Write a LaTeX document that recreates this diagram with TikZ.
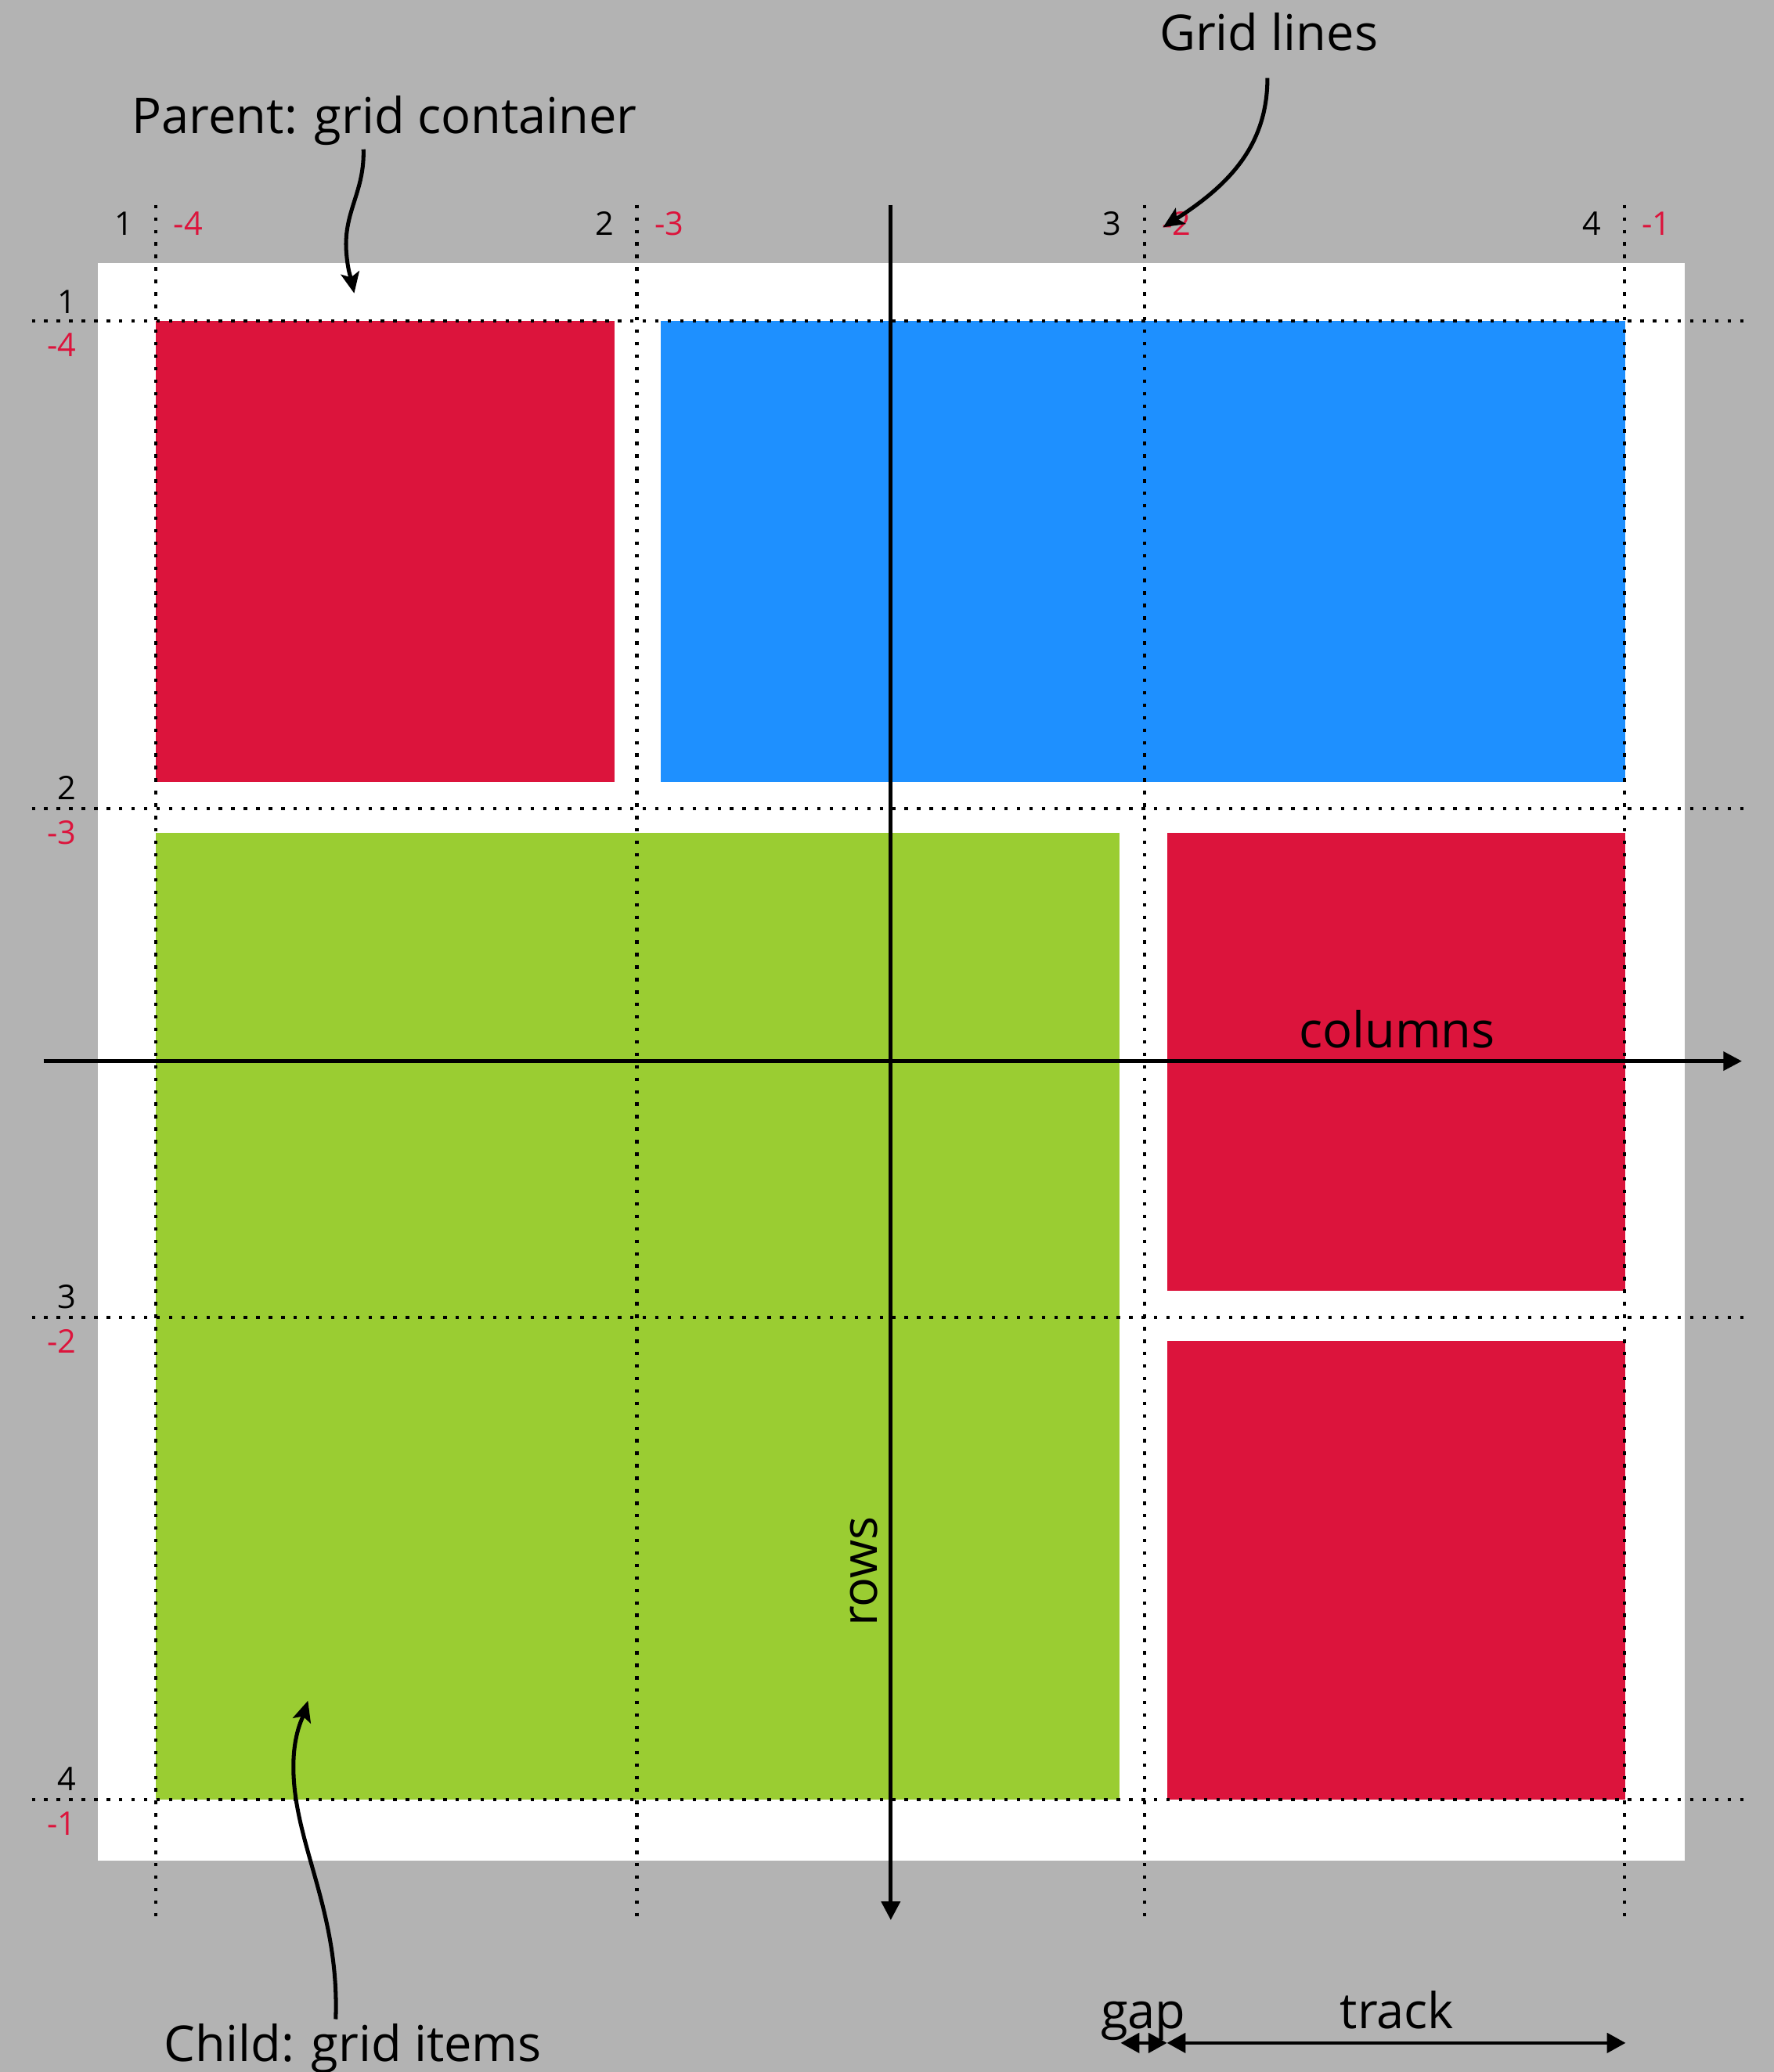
\documentclass[tikz,border=0pt]{standalone}
\usepackage{fontspec}
\setmainfont{Open Sans}
\usetikzlibrary{arrows.meta}
\definecolor{bggray}{RGB}{179,179,179}
\definecolor{gred}{RGB}{220,20,60}
\definecolor{gblue}{RGB}{30,144,255}
\definecolor{ggreen}{RGB}{154,205,50}
\begin{document}
\begin{tikzpicture}[x=0.02cm,y=-0.02cm,
  gridline/.style={line width=1.5pt, dash pattern=on 1.5pt off 3.87pt},
  axis/.style={line width=1.6pt, -{Triangle[length=8pt,width=8pt]}},
  pointer/.style={line width=1.7pt, -{Stealth[length=9pt,width=8pt,inset=2pt]}},
  measure/.style={line width=1.3pt, {Triangle[length=8pt,width=8.5pt]}-{Triangle[length=8pt,width=8.5pt]}},
  num/.style={font=\fontsize{14}{16}\selectfont, inner sep=0pt},
  posnum/.style={num, anchor=base east},
  negnum/.style={num, text=gred},
  big/.style={font=\fontsize{21.3}{25}\selectfont, inner sep=0pt, anchor=base}]
% background and container
\fill[bggray] (0,0) rectangle (1342,1568);
\useasboundingbox (0,0) rectangle (1342,1568);
\fill[white] (74,199) rectangle (1275,1408);
% grid items
\fill[gred]   (118,243) rectangle (465,592);
\fill[gblue]  (500,243) rectangle (1230,592);
\fill[ggreen] (118,630) rectangle (847,1362);
\fill[gred]   (883,630) rectangle (1230,977);
\fill[gred]   (883,1015) rectangle (1230,1362);
% grid lines
\foreach \x in {118,482,866,1229} \draw[gridline] (\x,155) -- (\x,1453);
\foreach \y in {243,612,997,1362} \draw[gridline] (24,\y) -- (1325,\y);
% column line numbers
\node[posnum] (c1) at (101,178) {1};
\node[negnum, anchor=base west] (cm4) at (131,178) {-4};
\node[posnum] (c2) at (465,178) {2};
\node[negnum, anchor=base west] (cm3) at (495,178) {-3};
\node[posnum] (c3) at (849,178) {3};
\node[negnum, anchor=base west] (cm2) at (879,178) {-2};
\node[posnum] (c4) at (1212,178) {4};
\node[negnum, anchor=base west] (cm1) at (1242,178) {-1};
% row line numbers
\node[posnum] (r1) at (58,237) {1};
\node[negnum, anchor=base east] (rm4) at (58,270) {-4};
\node[posnum] (r2) at (58,605) {2};
\node[negnum, anchor=base east] (rm3) at (58,639) {-3};
\node[posnum] (r3) at (58,990) {3};
\node[negnum, anchor=base east] (rm2) at (58,1024) {-2};
\node[posnum] (r4) at (58,1355) {4};
\node[negnum, anchor=base east] (rm1) at (58,1389) {-1};
% axes
\coordinate (hstart) at (33,803);
\coordinate (hend) at (1318,803);
\coordinate (vstart) at (674,155);
\coordinate (vend) at (674,1453);
\draw[axis] (hstart) -- (hend);
\draw[axis] (vstart) -- (vend);
\node[big] (columns) at (1057,793) {columns};
\node[big, rotate=90] (rows) at (664,1189) {rows};
% labels
\node[big] (parent) at (291,101) {Parent: grid container};
\node[big] (gridlines) at (960,38) {Grid lines};
\node[big] (child) at (267,1560) {Child: grid items};
\node[big] (gap) at (865,1535) {gap};
\node[big] (track) at (1057,1535) {track};
% pointers
\coordinate (ptail) at (275,113);
\coordinate (ptip) at (268,222);
\draw[pointer] (ptail) .. controls (276,145) and (260,160) .. (262,190)
  .. controls (263,205) and (266,212) .. (ptip);
\coordinate (gtail) at (959,59);
\coordinate (gtip) at (880,172);
\draw[pointer] (gtail) .. controls (959,110) and (930,140) .. (gtip);
\coordinate (ctail) at (254,1528);
\coordinate (ctip) at (233,1287);
\draw[pointer] (ctail) .. controls (257,1445) and (222,1395) .. (222,1337)
  .. controls (222,1312) and (229,1300) .. (ctip);
% gap and track measures
\coordinate (m1) at (848,1546);
\coordinate (m2) at (883,1546);
\coordinate (m3) at (1230,1546);
\draw[measure] (m1) -- (m2);
\draw[measure] (m2) -- (m3);
\end{tikzpicture}
\end{document}
